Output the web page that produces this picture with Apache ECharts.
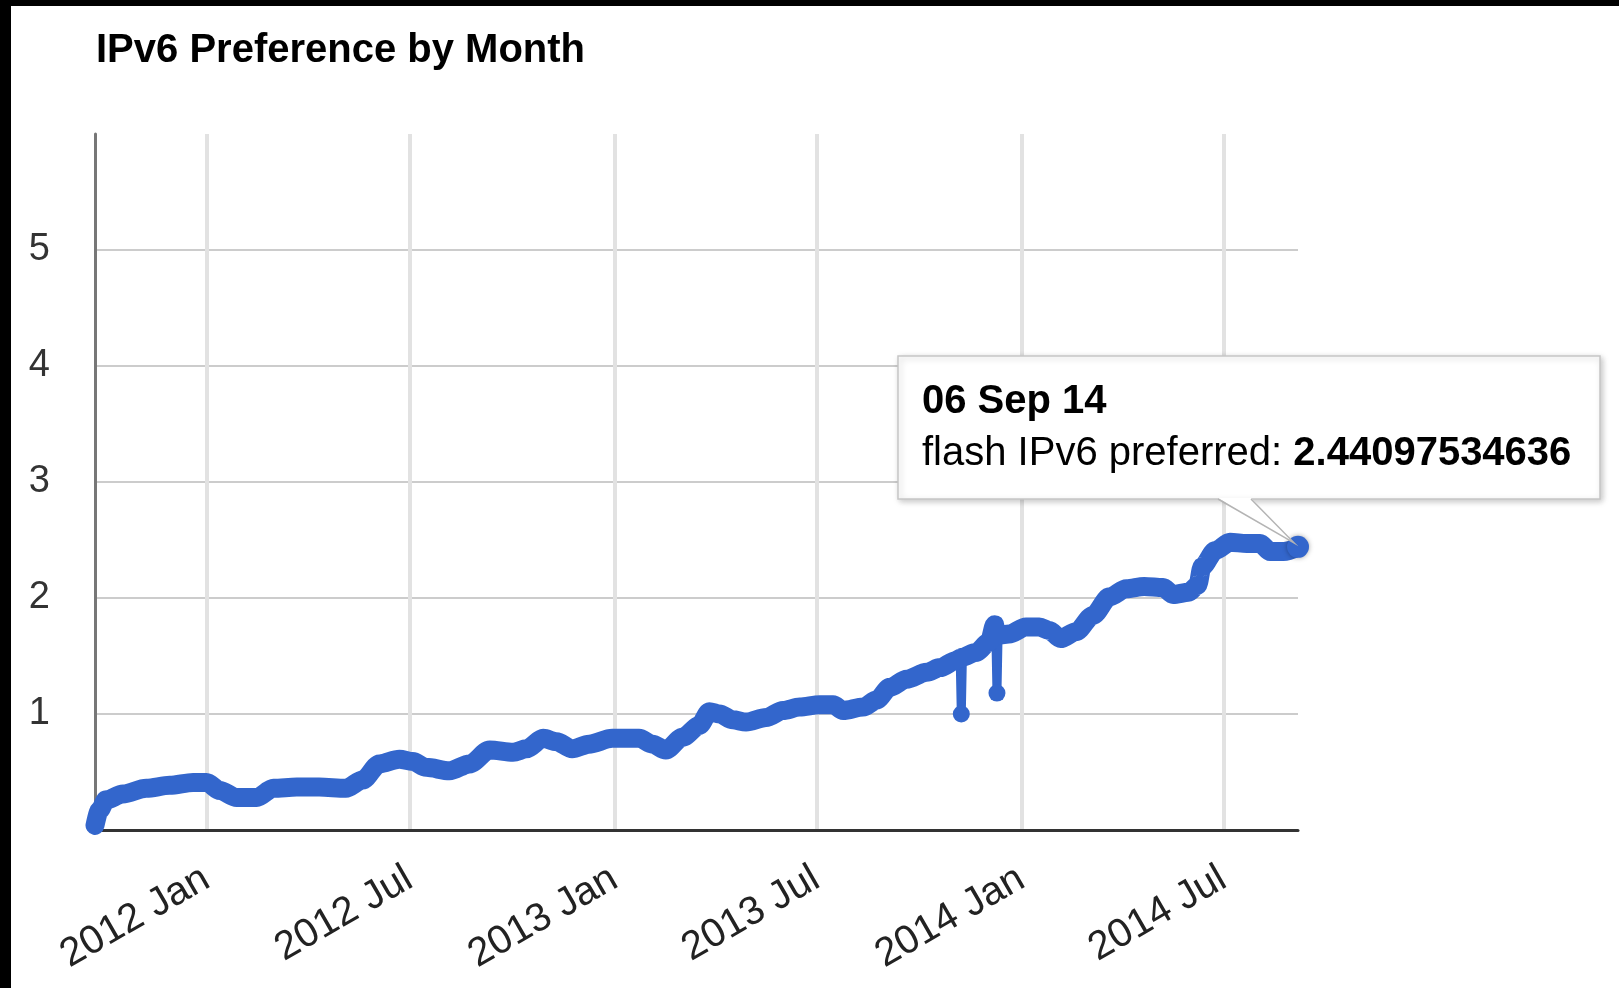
<!DOCTYPE html>
<html>
<head>
	<meta charset="utf-8">
	<title>IPv6 Preference by Month</title>
	<script src="https://cdn.jsdelivr.net/npm/echarts@6/dist/echarts.min.js"></script>
	<style>
		body{margin:0;background:#000;}
		#main{position:absolute;left:11px;top:6px;width:1608px;height:982px;background:#fff;}
	</style>
</head>
<body>
	<div id="main"></div>
</body>
<script type="text/javascript">
// daily share of flash clients preferring IPv6
var dates = [
	'2011-09-23','2011-09-27','2011-10-03','2011-10-18','2011-11-08','2011-11-29','2011-12-20',
	'2012-01-01','2012-01-13','2012-01-28','2012-02-15','2012-03-01','2012-03-22','2012-04-11',
	'2012-05-05','2012-05-20','2012-06-04','2012-06-22','2012-07-04','2012-07-16','2012-08-06',
	'2012-08-24','2012-09-11','2012-10-02','2012-10-14','2012-10-29','2012-11-10','2012-11-24',
	'2012-12-09','2012-12-30','2013-01-23','2013-02-04','2013-02-16','2013-03-03','2013-03-18',
	'2013-03-27','2013-04-05','2013-04-17','2013-04-29','2013-05-17','2013-06-01','2013-06-16',
	'2013-07-04','2013-07-16','2013-07-25','2013-08-12','2013-08-24','2013-09-05','2013-09-20',
	'2013-10-08','2013-10-20','2013-11-03','2013-11-07','2013-11-09','2013-11-21','2013-12-03',
	'2013-12-08','2013-12-09','2013-12-11','2013-12-21','2014-01-05','2014-01-17','2014-01-26',
	'2014-02-05','2014-02-19','2014-03-06','2014-03-21','2014-04-05','2014-04-21','2014-05-08',
	'2014-05-17','2014-05-31','2014-06-08','2014-06-12','2014-06-24','2014-07-07','2014-07-22',
	'2014-08-03','2014-08-12','2014-08-24','2014-09-06'
]
var values = [
	0.04,0.17,0.26,0.31,0.36,0.385,0.41,
	0.41,0.34,0.28,0.28,0.36,0.37,0.37,
	0.36,0.43,0.57,0.61,0.59,0.54,0.51,
	0.57,0.69,0.67,0.70,0.79,0.76,0.70,
	0.74,0.79,0.79,0.74,0.69,0.80,0.90,
	1.02,1.00,0.95,0.93,0.97,1.03,1.06,
	1.08,1.08,1.03,1.06,1.12,1.23,1.30,
	1.36,1.40,1.46,1.48,1.49,1.53,1.62,
	1.77,1.68,1.68,1.69,1.75,1.75,1.72,
	1.65,1.71,1.85,2.01,2.08,2.10,2.09,
	2.03,2.05,2.11,2.27,2.41,2.48,2.47,
	2.47,2.40,2.40,2.44097534636
]
// single-day drops
var dipDates = ['2013-11-08','2013-12-10']
var dipValues = [1.00,1.18]

var tickDates = ['2012-01-01','2012-07-01','2013-01-01','2013-07-01','2014-01-01','2014-07-01']
var tickLabels = ['2012 Jan','2012 Jul','2013 Jan','2013 Jul','2014 Jan','2014 Jul']
var yLabels = ['','1','2','3','4','5','']

var seriesName = 'flash IPv6 preferred'
var blue = '#3366cc'
var font = '"Liberation Sans", Arial, sans-serif'

function toTime(s){
	var p = s.split('-')
	return Date.UTC(+p[0], +p[1]-1, +p[2])
}
var tickTimes = tickDates.map(toTime)

var mainData = []
for(var i=0;i<dates.length;i++){
	mainData.push([toTime(dates[i]), values[i]])
}
var lastDate = dates[dates.length-1]
var lastValue = values[values.length-1]

var series = [{
	name: seriesName,
	type: 'line',
	data: mainData,
	showSymbol: false,
	smooth: 0.3,
	smoothMonotone: 'x',
	z: 3,
	lineStyle: {color: blue, width: 19, cap: 'round', join: 'round'},
	itemStyle: {color: blue},
	markPoint: {
		symbol: 'circle',
		symbolSize: 22,
		label: {show: false},
		itemStyle: {color: blue, shadowBlur: 5, shadowColor: 'rgba(0,0,0,0.35)'},
		data: [{coord: [toTime(lastDate), lastValue]}]
	}
}]

// each drop: from day before (in main data) down and back up
dipDates.forEach(function(d, k){
	var t = toTime(d)
	var idx = 0
	for(var i=0;i<dates.length;i++){ if(mainData[i][0] < t) idx = i }
	series.push({
		type: 'line',
		data: [
			{value: mainData[idx], symbolSize: 0},
			{value: [t, dipValues[k]], symbolSize: 17},
			{value: mainData[idx+1], symbolSize: 0}
		],
		symbol: 'circle',
		showSymbol: true,
		z: 2,
		lineStyle: {color: blue, width: 9},
		itemStyle: {color: blue}
	})
})

var option = {
	animation: false,
	textStyle: {fontFamily: font},
	title: {
		text: 'IPv6 Preference by Month',
		left: 80,
		top: 20,
		textStyle: {fontFamily: font, fontSize: 40, fontWeight: 'bold', color: '#000'}
	},
	grid: {left: 84, right: 321, top: 128, bottom: 158},
	xAxis: {
		type: 'value',
		min: toTime(dates[0]),
		max: toTime(lastDate),
		axisLine: {show: true, lineStyle: {color: '#333', width: 3}},
		axisTick: {show: false, customValues: tickTimes},
		axisLabel: {
			customValues: tickTimes,
			rotate: 30,
			margin: 46,
			fontSize: 40,
			color: '#222',
			fontFamily: font,
			formatter: function(v){
				var i = tickTimes.indexOf(v)
				return i >= 0 ? tickLabels[i] : ''
			}
		},
		splitLine: {show: true, lineStyle: {color: '#e2e2e2', width: 4}}
	},
	yAxis: {
		type: 'value',
		min: 0,
		max: 6,
		interval: 1,
		axisLine: {show: true, lineStyle: {color: '#777', width: 3}},
		axisTick: {show: false},
		axisLabel: {
			margin: 45,
			fontSize: 38,
			color: '#333',
			fontFamily: font,
			formatter: function(v){ return yLabels[v] || '' }
		},
		splitLine: {show: true, showMaxLine: false, lineStyle: {color: '#cccccc', width: 2}}
	},
	series: series
};

var myChart = echarts.init(document.getElementById('main'));
myChart.setOption(option);

// tooltip box for the last point
var months = ['Jan','Feb','Mar','Apr','May','Jun','Jul','Aug','Sep','Oct','Nov','Dec']
var lp = lastDate.split('-')
var tipTitle = lp[2] + ' ' + months[+lp[1]-1] + ' ' + lp[0].slice(2)
var tip = myChart.convertToPixel({gridIndex: 0}, [toTime(lastDate), lastValue])

var box = {x: 887, y: 350, w: 702, h: 143}
myChart.setOption({
	graphic: [
		{
			type: 'rect',
			z: 100,
			shape: {x: box.x, y: box.y, width: box.w, height: box.h},
			style: {fill: '#fff', stroke: '#c6c6c6', lineWidth: 1.5,
				shadowBlur: 6, shadowOffsetX: 2, shadowOffsetY: 2, shadowColor: 'rgba(0,0,0,0.22)'}
		},
		{
			type: 'polygon',
			z: 101,
			shape: {points: [[1207, box.y+box.h-1], [1240, box.y+box.h-1], [tip[0]-4, tip[1]-4]]},
			style: {fill: '#fff'}
		},
		{
			type: 'polyline',
			z: 102,
			shape: {points: [[1207, box.y+box.h], [tip[0]-4, tip[1]-4], [1240, box.y+box.h]]},
			style: {stroke: '#b4b4b4', lineWidth: 1.5, fill: null}
		},
		{
			type: 'text',
			z: 103,
			x: 911,
			y: 370,
			style: {
				text: '{d|' + tipTitle + '}\n{n|' + seriesName + ': }{b|' + lastValue + '}',
				verticalAlign: 'top',
				rich: {
					d: {fontFamily: font, fontSize: 40, fontWeight: 'bold', color: '#000', lineHeight: 52},
					n: {fontFamily: font, fontSize: 40, color: '#000', lineHeight: 52},
					b: {fontFamily: font, fontSize: 40, fontWeight: 'bold', color: '#000', lineHeight: 52}
				}
			}
		}
	]
});
</script>
</html>
